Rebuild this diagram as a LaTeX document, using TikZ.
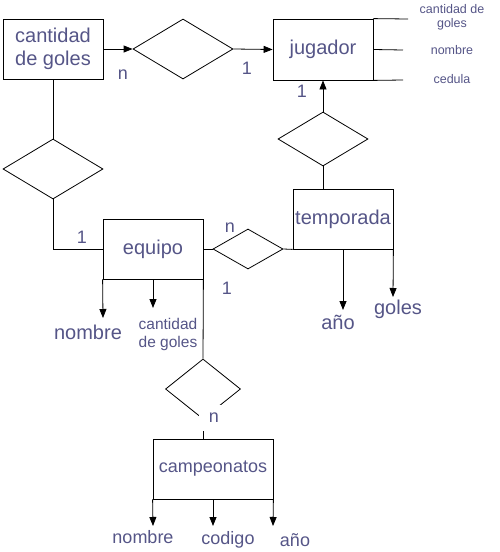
\documentclass[tikz,border=0pt]{standalone}
\usepackage{fontspec}
\setmainfont{Liberation Sans}
\usetikzlibrary{shapes.geometric,arrows.meta}
\definecolor{lbl}{RGB}{85,85,135}
\tikzset{
  ent/.style={draw=black,rectangle,line width=0.8pt,minimum height=60pt,inner sep=0pt,text=lbl,font=\fontsize{20}{23}\selectfont,align=center},
  rel/.style={draw=black,diamond,line width=0.8pt,inner sep=0pt},
  conn/.style={draw=black,line width=0.8pt},
  arr/.style={conn,-{Triangle[length=9pt,width=7pt]}},
  txt/.style={text=lbl,inner sep=0pt,align=center,font=\fontsize{20}{23}\selectfont},
  txtm/.style={text=lbl,inner sep=0pt,align=center,font=\fontsize{18}{21}\selectfont},
  txts/.style={text=lbl,inner sep=0pt,align=center,font=\fontsize{15.5}{18}\selectfont},
  txtxs/.style={text=lbl,inner sep=0pt,align=center,font=\fontsize{12.5}{14}\selectfont},
}
\begin{document}
\begin{tikzpicture}[x=1pt,y=-1pt]
\useasboundingbox (0,0) rectangle (499,552);
% entities
\node[ent,minimum width=100pt] (cg) at (53,49) {cantidad\\de goles};
\node[ent,minimum width=100pt,minimum height=61pt] (jug) at (323,49.5) {jugador};
\node[ent,minimum width=100pt] (temp) at (343,219) {temporada};
\node[ent,minimum width=100pt] (eq) at (153,249) {equipo};
\node[ent,minimum width=120pt,font=\fontsize{18}{21}\selectfont] (camp) at (213,469) {campeonatos};
% relations
\node[rel,minimum width=100pt,minimum height=60pt] (d1) at (183,49) {};
\node[rel,minimum width=90pt,minimum height=54pt] (d2) at (323,139) {};
\node[rel,minimum width=70pt,minimum height=40pt] (d3) at (248,249) {};
\node[rel,minimum width=100pt,minimum height=60pt] (d4) at (53,169) {};
\node[rel,minimum width=75pt,minimum height=60pt] (d5) at (203,389) {};
% connectors
\draw[arr] (cg.east) -- (d1.west);
\draw[arr] (d1.east) -- (jug.west);
\draw[arr] (d2.north) -- (jug.south);
\draw[conn] (d2.south) -- (d2.south |- temp.north);
\draw[conn] (eq.east) -- (d3.west);
\draw[conn] (d3.east) -- (temp.south west);
\draw[conn] (eq.west) -- (eq.west -| d4.south) -- (d4.south);
\draw[conn] (d4.north) -- (cg.south);
\draw[conn] (eq.south east) -- (d5.north);
\draw[conn] (d5.south) -- (d5.south |- camp.north);
% jugador attributes
\coordinate (ja1) at (408,19);
\coordinate (ja2) at (403,50);
\coordinate (ja3) at (403,80);
\draw[conn] (jug.north east) -- (ja1);
\draw[conn] (jug.east) -- (ja2);
\draw[conn] (jug.south east) -- (ja3);
\node[txtxs] (jcg) at (452,17) {cantidad de\\goles};
\node[txtxs] (jnom) at (452,50) {nombre};
\node[txtxs] (jced) at (452,79) {cedula};
% equipo attributes
\coordinate (en) at (103,318);
\coordinate (ec) at (153,308);
\draw[arr] (eq.south west) -- (en);
\draw[arr] (eq.south) -- (ec);
\node[txt] (enom) at (88,332) {nombre};
\node[txts] (ecg) at (168,334) {cantidad\\de goles};
% temporada attributes
\coordinate (ta) at (343,310);
\coordinate (tg) at (393,297);
\draw[arr] (temp.south) -- (ta);
\draw[arr] (temp.south east) -- (tg);
\node[txt] (tano) at (338,322) {año};
\node[txt] (tgol) at (398,309) {goles};
% campeonatos attributes
\coordinate (c1) at (153,526);
\coordinate (c2) at (213,526);
\coordinate (c3) at (273,526);
\draw[arr] (camp.south west) -- (c1);
\draw[arr] (camp.south) -- (c2);
\draw[arr] (camp.south east) -- (c3);
\node[txtm] (cnom) at (143,537) {nombre};
\node[txtm] (ccod) at (228,540) {codigo};
\node[txtm] (cano) at (295,540) {año};
% cardinalities
\node[txtm] (k1) at (123,75) {n};
\node[txtm] (k2) at (247,68) {1};
\node[txtm] (k3) at (302,91) {1};
\node[txtm] (k4) at (82,237) {1};
\node[txtm] (k5) at (230,228) {n};
\node[txtm] (k6) at (227,288) {1};
\node[txtm,fill=white,minimum width=30pt,minimum height=26pt] (k7) at (214,418) {n};
\end{tikzpicture}
\end{document}
